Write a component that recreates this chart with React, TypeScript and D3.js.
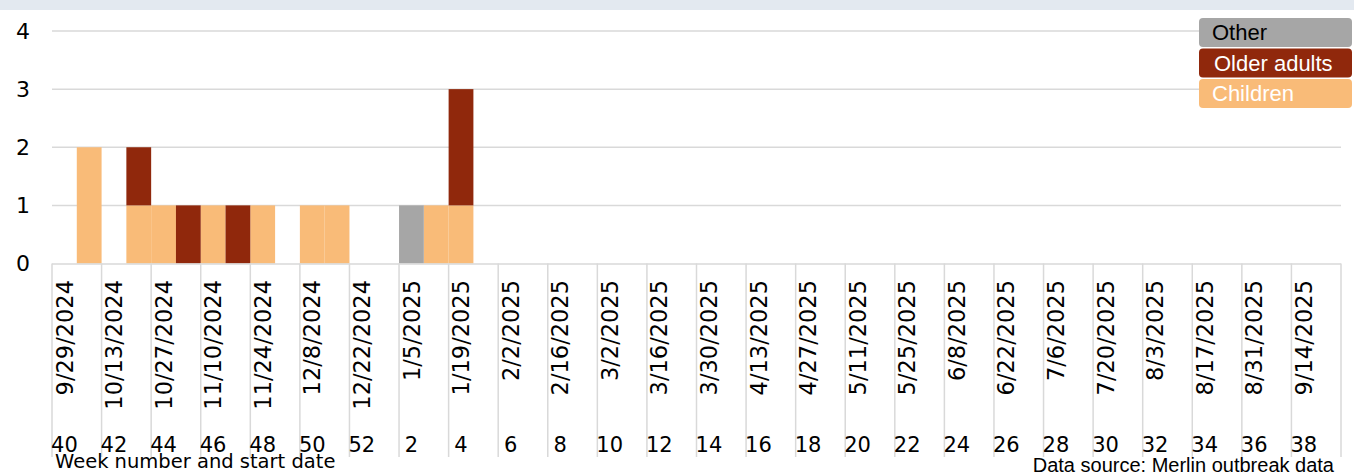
import React from 'react';
import * as d3 from 'd3';

const weeks = [40, 41, 42, 43, 44, 45, 46, 47, 48, 49, 50, 51, 52,
  1, 2, 3, 4, 5, 6, 7, 8, 9, 10, 11, 12, 13, 14, 15, 16, 17, 18, 19, 20,
  21, 22, 23, 24, 25, 26, 27, 28, 29, 30, 31, 32, 33, 34, 35, 36, 37, 38, 39];

// start dates shown on the axis (every second week, from week 40)
const dateLabels = ['9/29/2024', '10/13/2024', '10/27/2024', '11/10/2024', '11/24/2024',
  '12/8/2024', '12/22/2024', '1/5/2025', '1/19/2025', '2/2/2025', '2/16/2025', '3/2/2025',
  '3/16/2025', '3/30/2025', '4/13/2025', '4/27/2025', '5/11/2025', '5/25/2025', '6/8/2025',
  '6/22/2025', '7/6/2025', '7/20/2025', '8/3/2025', '8/17/2025', '8/31/2025', '9/14/2025'];

const children = [0, 2, 0, 1, 1, 0, 1, 0, 1, 0, 1, 1, 0,
  0, 0, 1, 1, 0, 0, 0, 0, 0, 0, 0, 0, 0, 0, 0, 0, 0, 0, 0, 0,
  0, 0, 0, 0, 0, 0, 0, 0, 0, 0, 0, 0, 0, 0, 0, 0, 0, 0, 0];
const olderAdults = [0, 0, 0, 1, 0, 1, 0, 1, 0, 0, 0, 0, 0,
  0, 0, 0, 2, 0, 0, 0, 0, 0, 0, 0, 0, 0, 0, 0, 0, 0, 0, 0, 0,
  0, 0, 0, 0, 0, 0, 0, 0, 0, 0, 0, 0, 0, 0, 0, 0, 0, 0, 0];
const other = [0, 0, 0, 0, 0, 0, 0, 0, 0, 0, 0, 0, 0,
  0, 1, 0, 0, 0, 0, 0, 0, 0, 0, 0, 0, 0, 0, 0, 0, 0, 0, 0, 0,
  0, 0, 0, 0, 0, 0, 0, 0, 0, 0, 0, 0, 0, 0, 0, 0, 0, 0, 0];

const yTicks = [0, 1, 2, 3, 4];

const seriesKeys = ['children', 'olderAdults', 'other'];
const colors = { children: '#F9BB78', olderAdults: '#90280C', other: '#A6A6A6' };
const legendItems = [
  { key: 'other', label: 'Other', text: '#000' },
  { key: 'olderAdults', label: 'Older adults', text: '#fff' },
  { key: 'children', label: 'Children', text: '#fff' },
];

export default function App() {
  const width = 1354;
  const height = 474;
  const left = 52, right = 1341, top = 31, bottom = 263.5;
  const numFont = '"DejaVu Sans", sans-serif';
  const txtFont = '"Liberation Sans", Arial, sans-serif';

  const x = d3.scaleBand().domain(weeks.map(String)).range([left, right]).padding(0);
  const y = d3.scaleLinear().domain([0, 4]).range([bottom, top]);
  const bw = x.bandwidth();

  const table = weeks.map((w, i) => ({ week: String(w), children: children[i], olderAdults: olderAdults[i], other: other[i] }));
  const stacked = d3.stack().keys(seriesKeys)(table as any);

  const labelWeeks = weeks.filter((_, i) => i % 2 === 0);

  return (
    <svg width={width} height={height} style={{ position: 'absolute', left: 0, top: 0, background: '#fff' }}>
      <rect x={0} y={0} width={width} height={10} fill="#E3E9F0" />

      {yTicks.map(t => (
        <g key={t}>
          {t > 0 && <line x1={left} x2={right} y1={y(t)} y2={y(t)} stroke="#D9D9D9" strokeWidth={1.5} />}
          <text x={30} y={y(t)} dy="0.36em" textAnchor="end" fontFamily={numFont} fontSize={22} fill="#000">{t}</text>
        </g>
      ))}

      {stacked.map(s => (
        <g key={s.key} fill={colors[s.key]}>
          {s.map((d, i) => d[1] - d[0] > 0 ? (
            <rect key={i} x={x(String(weeks[i]))} width={bw} y={y(d[1])} height={y(d[0]) - y(d[1])} />
          ) : null)}
        </g>
      ))}

      <line x1={left} x2={right} y1={bottom + 0.5} y2={bottom + 0.5} stroke="#D9D9D9" strokeWidth={1.5} />
      {d3.range(0, weeks.length + 1, 2).map(k => {
        const xx = k < weeks.length ? x(String(weeks[k])) : right;
        return <line key={k} x1={xx} x2={xx} y1={bottom} y2={457} stroke="#D9D9D9" strokeWidth={1.5} />;
      })}

      {labelWeeks.map((w, i) => {
        const cx = x(String(w)) + bw / 2;
        return (
          <g key={w}>
            <text transform={`translate(${cx},280) rotate(-90)`} dy="0.36em" textAnchor="end"
              fontFamily={numFont} fontSize={22.5} fill="#000">{dateLabels[i]}</text>
            <text x={cx} y={452} textAnchor="middle" fontFamily={numFont} fontSize={21} fill="#000">{w}</text>
          </g>
        );
      })}

      <text x={55} y={468} fontFamily={numFont} fontSize={19.5} fill="#000">Week number and start date</text>
      <text x={1334} y={472} textAnchor="end" fontFamily={txtFont} fontSize={20} fill="#000">Data source: Merlin outbreak data</text>

      {legendItems.map((it, i) => (
        <g key={it.key} transform={`translate(1199,${18 + i * 30.5})`}>
          <rect width={153} height={29} rx={4} fill={colors[it.key]} />
          <text x={it.key === 'olderAdults' ? 15 : 13} y={14.5} dy="0.36em" fontFamily={txtFont} fontSize={22} fill={it.text}>{it.label}</text>
        </g>
      ))}
    </svg>
  );
}
